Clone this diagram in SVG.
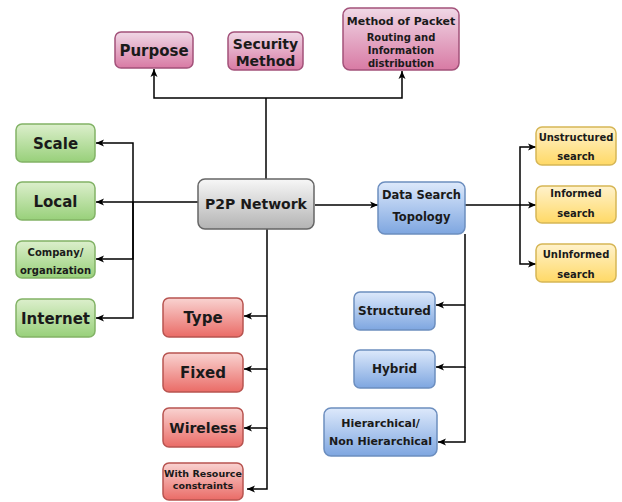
<svg xmlns="http://www.w3.org/2000/svg" width="622" height="502" viewBox="0 0 622 502">
<defs>
<linearGradient id="gPink" x1="0" y1="0" x2="0" y2="1"><stop offset="0" stop-color="#f0d8e6"/><stop offset="1" stop-color="#d87aa4"/></linearGradient>
<linearGradient id="gGreen" x1="0" y1="0" x2="0" y2="1"><stop offset="0" stop-color="#dcefcc"/><stop offset="1" stop-color="#98d07a"/></linearGradient>
<linearGradient id="gGray" x1="0" y1="0" x2="0" y2="1"><stop offset="0" stop-color="#f7f7f7"/><stop offset="1" stop-color="#b3b3b3"/></linearGradient>
<linearGradient id="gRed" x1="0" y1="0" x2="0" y2="1"><stop offset="0" stop-color="#f9d3d1"/><stop offset="1" stop-color="#ea6b66"/></linearGradient>
<linearGradient id="gBlue" x1="0" y1="0" x2="0" y2="1"><stop offset="0" stop-color="#dde9fb"/><stop offset="1" stop-color="#7ea6e0"/></linearGradient>
<linearGradient id="gYellow" x1="0" y1="0" x2="0" y2="1"><stop offset="0" stop-color="#fff2cc"/><stop offset="1" stop-color="#ffd966"/></linearGradient>
<marker id="arr" markerWidth="9" markerHeight="8" refX="8" refY="4" orient="auto" markerUnits="userSpaceOnUse"><path d="M0,0.5 L8,4 L0,7.5 L2,4 z" fill="#000"/></marker>
</defs>
<style>
text{font-family:"DejaVu Sans","Liberation Sans",sans-serif;font-weight:bold;fill:#1a1a1a;text-anchor:middle}
.pink{fill:url(#gPink);stroke:#a3527a;stroke-width:1.5}
.green{fill:url(#gGreen);stroke:#82b366;stroke-width:1.5}
.gray{fill:url(#gGray);stroke:#666;stroke-width:1.5}
.red{fill:url(#gRed);stroke:#b85450;stroke-width:1.5}
.blue{fill:url(#gBlue);stroke:#6c8ebf;stroke-width:1.5}
.yellow{fill:url(#gYellow);stroke:#d6b656;stroke-width:1.5}
.big{font-size:15px}
.med{font-size:12px}
.sm{font-size:10px}
.c{fill:none;stroke:#000;stroke-width:1.5}
.a{fill:none;stroke:#000;stroke-width:1.5;marker-end:url(#arr)}
</style>
<rect width="622" height="502" fill="#fff"/>
<g id="connectors">
<path class="c" d="M266,179 V98"/>
<path class="a" d="M266,98 H154 V69"/>
<path class="a" d="M266,98 H402 V71"/>
<path class="c" d="M198,202 H133"/>
<path class="a" d="M133,202 V143 H96"/>
<path class="a" d="M133,202 H96"/>
<path class="a" d="M133,202 V259 H96"/>
<path class="a" d="M133,202 V318 H96"/>
<path class="c" d="M267,229 V316"/>
<path class="a" d="M267,316 H244"/>
<path class="a" d="M267,316 V369 H244"/>
<path class="a" d="M267,369 V428 H244"/>
<path class="a" d="M267,428 V489 H247"/>
<path class="a" d="M315,205 H378"/>
<path class="c" d="M465,205 H520"/>
<path class="a" d="M520,205 H536"/>
<path class="a" d="M520,205 V147 H536"/>
<path class="a" d="M520,205 V264 H536"/>
<path class="c" d="M465,234 V305"/>
<path class="a" d="M465,305 H436"/>
<path class="a" d="M465,305 V367 H436"/>
<path class="a" d="M465,367 V442 H438"/>
</g>
<g id="purpose"><rect class="pink" x="115" y="32" width="78" height="36" rx="6"/><text class="big" x="154" y="56">Purpose</text></g>
<g id="security"><rect class="pink" x="228" y="32" width="75" height="38" rx="6"/><text x="265.5" y="49" style="font-size:14px">Security</text><text x="265.5" y="66" style="font-size:14px">Method</text></g>
<g id="packet"><rect class="pink" x="343" y="8" width="116" height="62" rx="7"/><text x="401" y="25" style="font-size:11px">Method of Packet</text><text class="sm" x="401" y="41">Routing and</text><text class="sm" x="401" y="54">Information</text><text class="sm" x="401" y="67">distribution</text></g>
<g id="p2p"><rect class="gray" x="198" y="179" width="116" height="50" rx="7"/><text x="256" y="209" style="font-size:14px">P2P Network</text></g>
<g id="scale"><rect class="green" x="16" y="124" width="79" height="38" rx="6"/><text class="big" x="55.5" y="149">Scale</text></g>
<g id="local"><rect class="green" x="16" y="182" width="79" height="38" rx="6"/><text class="big" x="55.5" y="207">Local</text></g>
<g id="company"><rect class="green" x="16" y="241" width="79" height="37" rx="6"/><text class="sm" x="55.5" y="256">Company/</text><text class="sm" x="55.5" y="274">organization</text></g>
<g id="internet"><rect class="green" x="16" y="299" width="79" height="38" rx="6"/><text class="big" x="55.5" y="324">Internet</text></g>
<g id="type"><rect class="red" x="163" y="298" width="80" height="39" rx="6"/><text class="big" x="203" y="323">Type</text></g>
<g id="fixed"><rect class="red" x="163" y="353" width="80" height="39" rx="6"/><text class="big" x="203" y="378">Fixed</text></g>
<g id="wireless"><rect class="red" x="163" y="408" width="80" height="39" rx="6"/><text x="203" y="433" style="font-size:14px">Wireless</text></g>
<g id="resource"><rect class="red" x="163" y="463" width="80" height="37" rx="6"/><text x="203" y="477" style="font-size:9.5px">With Resource</text><text x="203" y="489" style="font-size:9.5px">constraints</text></g>
<g id="datasearch"><rect class="blue" x="378" y="182" width="87" height="52" rx="7"/><text x="421.5" y="199" style="font-size:11.5px">Data Search</text><text x="421.5" y="221" style="font-size:11.5px">Topology</text></g>
<g id="unstructured"><rect class="yellow" x="536" y="127" width="80" height="38" rx="6"/><text class="sm" x="576" y="141">Unstructured</text><text class="sm" x="576" y="160">search</text></g>
<g id="informed"><rect class="yellow" x="536" y="186" width="80" height="37" rx="6"/><text class="sm" x="576" y="197">Informed</text><text class="sm" x="576" y="217">search</text></g>
<g id="uninformed"><rect class="yellow" x="536" y="244" width="80" height="38" rx="6"/><text class="sm" x="576" y="258">UnInformed</text><text class="sm" x="576" y="278">search</text></g>
<g id="structured"><rect class="blue" x="354" y="292" width="81" height="38" rx="6"/><text class="med" x="394.5" y="315">Structured</text></g>
<g id="hybrid"><rect class="blue" x="354" y="350" width="81" height="38" rx="6"/><text class="med" x="394.5" y="373">Hybrid</text></g>
<g id="hierarchical"><rect class="blue" x="324" y="408" width="113" height="48" rx="7"/><text x="380.5" y="427" style="font-size:11px">Hierarchical/</text><text x="380.5" y="445" style="font-size:11px">Non Hierarchical</text></g>
</svg>
